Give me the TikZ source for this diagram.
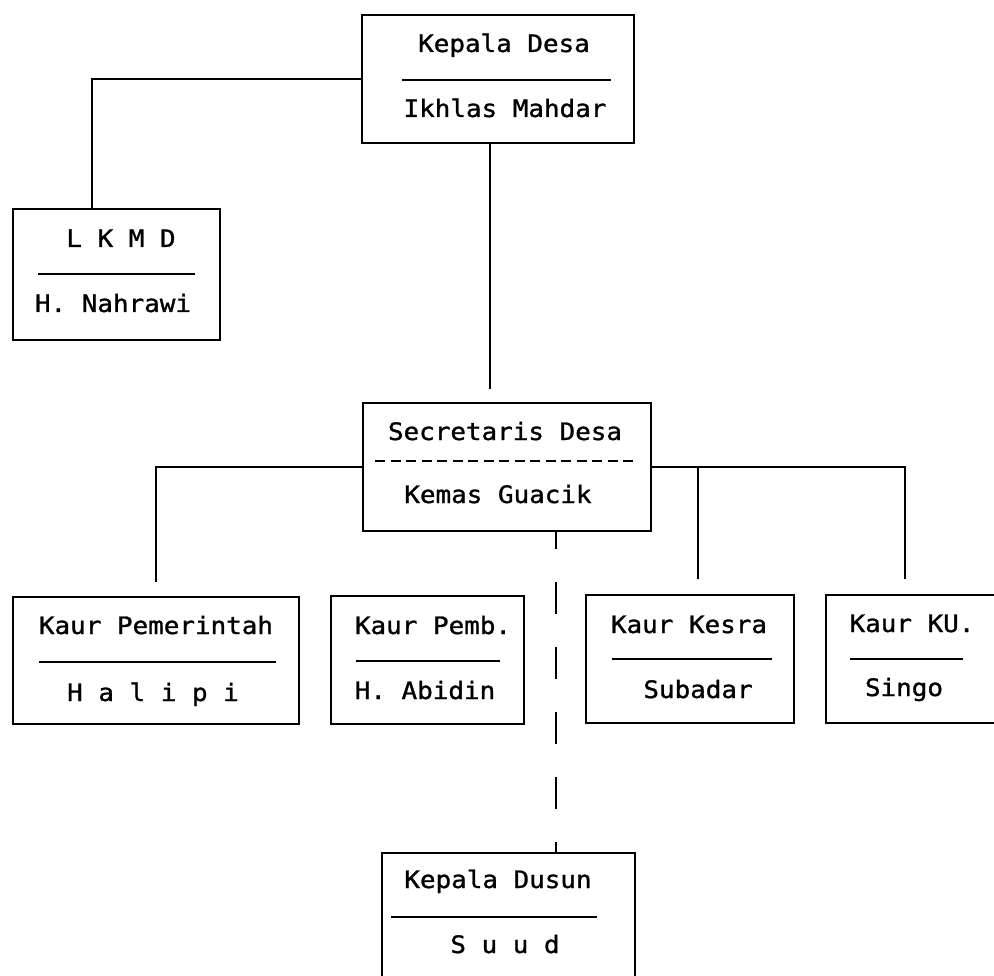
\documentclass[tikz,border=0pt]{standalone}
\usepackage{fontspec}
\newfontfamily\typewriter[FakeStretch=1.08, FakeBold=1.2]{DejaVu Sans Mono}
\usetikzlibrary{calc}

\begin{document}
\begin{tikzpicture}[x=1pt, y=-1pt,
            unit box/.style={draw, line width=2.8pt, inner sep=0pt},
            unit text/.style={font=\typewriter\fontsize{24}{28}\selectfont, anchor=base, inner sep=0pt},
            link/.style={line width=2.6pt},
            sep line/.style={line width=2.6pt},
            ]
            \useasboundingbox (0,0) rectangle (994,976);
            \clip (0,0) rectangle (994,976);

            % boxes
            \node[unit box, minimum width=272pt, minimum height=128pt] (kades) at (498,79) {};
            \node[unit box, minimum width=207pt, minimum height=131pt] (lkmd) at (116.5,274.5) {};
            \node[unit box, minimum width=288pt, minimum height=128pt] (sekdes) at (507,467) {};
            \node[unit box, minimum width=286pt, minimum height=127pt] (pemerintah) at (156,660.5) {};
            \node[unit box, minimum width=193pt, minimum height=128pt] (pemb) at (427.5,660) {};
            \node[unit box, minimum width=208pt, minimum height=128pt] (kesra) at (690,659) {};
            \node[unit box, minimum width=178pt, minimum height=128pt] (ku) at (915,659) {};
            \node[unit box, minimum width=253pt, minimum height=127pt] (dusun) at (508.5,916.5) {};

            % texts
            \node[unit text] (kades title) at (504,52) {Kepala Desa};
            \node[unit text] (kades name) at (505,117) {Ikhlas Mahdar};
            \node[unit text] (lkmd title) at (121,247) {L K M D};
            \node[unit text] (lkmd name) at (113,312) {H. Nahrawi};
            \node[unit text] (sekdes title) at (505,440) {Secretaris Desa};
            \node[unit text] (sekdes name) at (498,503) {Kemas Guacik};
            \node[unit text] (pemerintah title) at (156,634) {Kaur Pemerintah};
            \node[unit text] (pemerintah name) at (153,701) {H a l i p i};
            \node[unit text] (pemb title) at (433,634) {Kaur Pemb.};
            \node[unit text] (pemb name) at (425,699) {H. Abidin};
            \node[unit text] (kesra title) at (689,633) {Kaur Kesra};
            \node[unit text] (kesra name) at (698,698) {Subadar};
            \node[unit text] (ku title) at (912,632) {Kaur KU.};
            \node[unit text] (ku name) at (904,696) {Singo};
            \node[unit text] (dusun title) at (498,888) {Kepala Dusun};
            \node[unit text] (dusun name) at (505,953) {S u u d};

            % separators
            \draw[sep line] (402,80) -- (611,80);
            \draw[sep line] (38,274) -- (195,274);
            \draw[sep line, dash pattern=on 10pt off 5.5pt] (375,461) -- (638,461);
            \draw[sep line] (39,662) -- (276,662);
            \draw[sep line] (356,661) -- (500,661);
            \draw[sep line] (612,659) -- (772,659);
            \draw[sep line] (850,659) -- (963,659);
            \draw[sep line] (391,917) -- (597,917);

            % connectors
            \coordinate (sekdes top) at ($(kades.south |- sekdes.north)+(-8,-13)$);
            \coordinate (kesra drop) at ($(kesra.north)+(8,-15)$);
            \coordinate (ku drop) at ($(ku.north)+(-10,-15)$);
            \coordinate (dusun link) at ($(sekdes.south)+(49,0)$);
            \draw[link] (kades.west) -| ([xshift=-24.5pt]lkmd.north);
            \draw[link] ([xshift=-8pt]kades.south) -- (sekdes top);
            \draw[link] (sekdes.west) -| ($(pemerintah.north)+(0,-14)$);
            \draw[link] (sekdes.east) -| (ku drop);
            \draw[link] (kesra drop |- sekdes.east) -- (kesra drop);
            \draw[link, dash pattern=on 32pt off 33pt, dash phase=15pt] (dusun link) -- (dusun link |- dusun.north);
        \end{tikzpicture}
\end{document}
